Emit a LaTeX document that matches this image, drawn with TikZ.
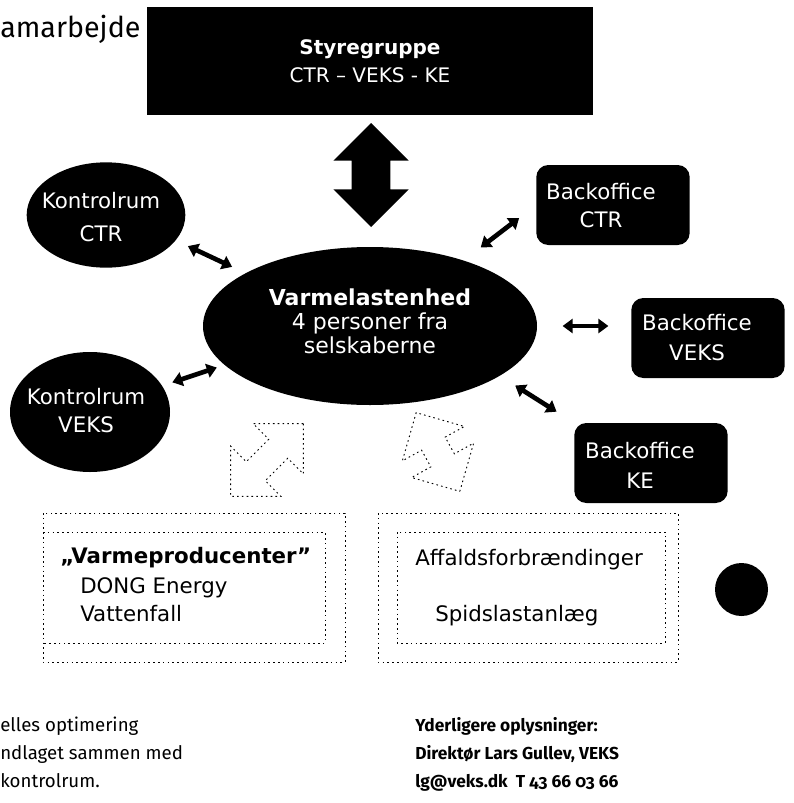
\documentclass[tikz,border=0pt]{standalone}
\usepackage{fontspec}
\setmainfont{DejaVu Sans}
\newfontfamily\notefont[Numbers=OldStyle]{Fira Sans}
\usetikzlibrary{arrows.meta,shapes.geometric,shapes.arrows}

\tikzset{
  blob/.style={ellipse, fill=black, inner sep=0pt},
  office/.style={rectangle, rounded corners=9pt, fill=black, inner sep=0pt,
    minimum width=115pt, minimum height=60pt},
  inverse/.style={text=white, align=center, inner sep=0pt},
  dark/.style={text=black, anchor=base west, inner sep=0pt, font=\fontsize{16}{20}\selectfont},
  link/.style={line width=3.5pt, {Triangle[length=7.5pt,width=10.5pt]}-{Triangle[length=7.5pt,width=10.5pt]}},
  ghost/.style={line width=0.7pt, dash pattern=on 1.2pt off 2.4pt},
  ghostarrow/.style={double arrow, draw, ghost, inner xsep=0pt, inner ysep=9.75pt,
    minimum width=52.5pt, double arrow head extend=16.5pt, double arrow tip angle=90},
  note/.style={anchor=base west, inner sep=0pt, font=\notefont\fontsize{14}{16}\selectfont}
}

\begin{document}
\begin{tikzpicture}[x=0.75pt, y=-0.75pt]
  \useasboundingbox (0,0) rectangle (793,803);

  % Title and steering group
  \node[anchor=base west, inner sep=0pt, font=\notefont\fontsize{21.5}{24}\selectfont] (title) at (0,37) {amarbejde};
  \node[rectangle, fill=black, minimum width=334.5pt, minimum height=81pt] (styre) at (370,61) {};
  \node[inverse, font=\fontsize{15}{21}\selectfont] (styretext) at (370,61) {\textbf{Styregruppe}\\CTR – VEKS - KE};

  % Block arrow to steering group
  \node[double arrow, fill=black, rotate=90, inner xsep=0pt, inner ysep=14.25pt,
    minimum height=78pt, minimum width=56pt, double arrow head extend=13.75pt,
    double arrow tip angle=90] (updown) at (371,175) {};

  % Centre unit
  \node[blob, minimum width=250.5pt, minimum height=118.5pt] (varme) at (370,326) {};
  \node[inverse, font=\fontsize{16.5}{18}\selectfont] (varmetext) at (370,321) {\textbf{Varmelastenhed}\\4 personer fra\\selskaberne};

  % Control rooms
  \node[blob, minimum width=119pt, minimum height=79pt] (ctrlCTR) at (106,215) {};
  \node[inverse, font=\fontsize{16}{24.75}\selectfont] (ctrlCTRtext) at (101,217) {Kontrolrum\\CTR};
  \node[blob, minimum width=120pt, minimum height=90pt] (ctrlVEKS) at (90,412) {};
  \node[inverse, font=\fontsize{16}{21}\selectfont] (ctrlVEKStext) at (86,411) {Kontrolrum\\VEKS};

  % Back offices
  \node[office] (boCTR) at (613,205) {};
  \node[inverse, font=\fontsize{16}{21}\selectfont] (boCTRtext) at (601,206) {Backoffice\\CTR};
  \node[office] (boVEKS) at (708,338) {};
  \node[inverse, font=\fontsize{16}{22.5}\selectfont] (boVEKStext) at (697,338) {Backoffice\\VEKS};
  \node[office] (boKE) at (651,463) {};
  \node[inverse, font=\fontsize{16}{22.5}\selectfont] (boKEtext) at (640,465) {Backoffice\\KE};

  % Links
  \draw[link, shorten <=10pt, shorten >=11pt] (ctrlCTR.-20) -- (varme.157);
  \draw[link, shorten <=8pt, shorten >=6pt] (ctrlVEKS.20) -- (varme.195);
  \draw[link, shorten <=16pt, shorten >=16pt] (varme.35) -- (boCTR.west);
  \draw[link, shorten <=19pt, shorten >=17pt] (varme.east) -- (varme.east -| boVEKS.west);
  \draw[link, shorten <=13.5pt, shorten >=15.5pt] (varme.-21) -- (boKE.north west);

  % Producer arrows
  \node[ghostarrow, rotate=45, minimum height=77pt] (prodL) at (267,460) {};
  \node[ghostarrow, rotate=-61, minimum height=67.5pt] (prodR) at (438,452) {};

  % Producer frames
  \draw[ghost] (43,513) rectangle (345,662);
  \draw[ghost] (43,532) -- (325,532) -- (325,643) -- (43,643);
  \draw[ghost] (378,513) rectangle (678,662);
  \draw[ghost] (397,532) rectangle (665,643);

  \node[dark, font=\bfseries\fontsize{16}{20}\selectfont] (prod) at (60,563) {„Varmeproducenter”};
  \node[dark] (dong) at (80,593) {DONG Energy};
  \node[dark] (vatten) at (80,621) {Vattenfall};
  \node[dark] (affald) at (415,565) {Affaldsforbrændinger};
  \node[dark] (spids) at (435,621) {Spidslastanlæg};

  \node[circle, fill=black, minimum size=39.75pt, inner sep=0pt] (dot) at (741.5,589.5) {};

  % Notes
  \node[note] (note1) at (0,731) {elles optimering};
  \node[note] (note2) at (0,759) {ndlaget sammen med};
  \node[note] (note3) at (0,787) {kontrolrum.};
  \node[note, font=\notefont\bfseries\fontsize{13}{16}\selectfont] (info1) at (415,731) {Yderligere oplysninger:};
  \node[note, font=\notefont\bfseries\fontsize{13}{16}\selectfont] (info2) at (415,759) {Direktør Lars Gullev, VEKS};
  \node[note, font=\notefont\bfseries\fontsize{13}{16}\selectfont] (info3) at (415,787) {lg@veks.dk\ \ T 43 66 03 66};
\end{tikzpicture}
\end{document}
